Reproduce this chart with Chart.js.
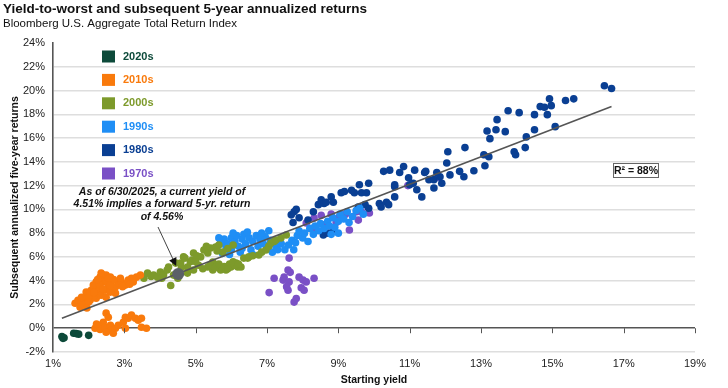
<!DOCTYPE html>
<html>
<head>
<meta charset="utf-8">
<script src="https://cdn.jsdelivr.net/npm/chart.js@4.4.1/dist/chart.umd.min.js"></script>
<style>
  html, body { margin: 0; padding: 0; background: #fff; }
  #wrap { position: relative; width: 728px; height: 388px; }
</style>
</head>
<body>
<div id="wrap"><canvas id="yieldChart" width="728" height="388"></canvas></div>
<script>
// ticks
const xTicks = [1, 3, 5, 7, 9, 11, 13, 15, 17, 19];
const yTicks = [-2, 0, 2, 4, 6, 8, 10, 12, 14, 16, 18, 20, 22, 24];

// decades, legend order
const decades = ['2020s', '2010s', '2000s', '1990s', '1980s', '1970s'];
const decadeColors = ['#0d4a3a', '#f97a0c', '#7d9a2b', '#1f8ef5', '#0a3f93', '#7a50c6'];

// [starting yield %, subsequent 5-yr return %]
const pts2020s = [[1.25, -0.7], [1.28, -0.85], [1.31, -0.8], [1.58, -0.42], [1.65, -0.45], [1.72, -0.5], [2.0, -0.6]];

const pts2010s = [
  [1.62, 2.1], [1.70, 2.36], [1.79, 2.2], [1.90, 2.5], [1.76, 1.77], [1.90, 1.94], [2.04, 2.36], [1.93, 3.04],
  [2.07, 3.2], [2.18, 3.46], [2.21, 3.9], [2.32, 4.3], [2.41, 4.47], [2.49, 4.47], [2.61, 4.3], [2.41, 3.9],
  [2.32, 3.46], [2.27, 3.04], [2.35, 2.78], [2.21, 2.53], [2.13, 2.6], [2.46, 3.2], [2.55, 3.63], [2.63, 3.8],
  [2.75, 3.46], [2.83, 3.8], [2.92, 3.9], [3.03, 3.63], [3.11, 4.05], [3.2, 4.2], [3.34, 4.3], [3.45, 4.47],
  [3.25, 3.9], [2.75, 2.95], [2.61, 3.04], [2.49, 2.6], [2.04, 2.95], [2.13, 3.63], [2.89, 4.2], [2.35, 4.64],
  [1.99, 2.53], [1.84, 2.0], [2.3, 3.7], [2.5, 4.0], [1.8, 2.6], [2.0, 2.2], [2.15, 3.0], [2.4, 3.3],
  [2.6, 3.6], [2.7, 4.1], [2.25, 4.1], [2.55, 4.2], [1.95, 1.7], [2.95, 3.5], [3.15, 3.7],
  [2.49, 1.27], [2.55, 0.93], [2.41, 0.5], [2.27, 0.25], [2.18, 0.0], [2.32, -0.1], [2.46, 0.08], [2.61, 0.25],
  [2.63, -0.17], [2.75, 0.0], [2.49, -0.34], [2.69, -0.42], [2.83, 0.25], [2.97, 0.5], [3.03, 0.93], [3.11, 0.84],
  [3.2, 1.1], [3.31, 0.84], [3.39, 0.68], [3.48, 0.84], [3.03, 0.0], [3.48, 0.08], [3.62, 0.0], [2.22, 0.35]
];

const pts2000s = [
  [3.55, 4.2], [3.65, 4.64], [3.75, 4.35], [3.82, 4.47], [3.93, 4.3], [4.01, 4.73], [4.1, 4.5], [4.2, 4.9],
  [4.24, 5.15], [4.3, 3.6], [4.38, 4.47], [4.44, 5.48], [4.58, 5.48], [4.66, 6.0], [4.77, 5.15], [4.77, 4.64],
  [4.85, 5.6], [4.9, 5.74], [4.94, 6.33], [4.94, 4.9], [5.03, 6.1], [5.08, 5.3], [5.14, 6.0], [5.23, 6.58],
  [5.34, 6.33], [5.34, 5.15], [5.42, 6.75], [5.48, 5.57], [5.48, 4.9], [5.56, 6.84], [5.6, 6.5], [5.65, 7.0],
  [5.7, 4.9], [5.76, 6.4], [5.85, 4.9], [5.9, 6.7], [5.99, 5.15], [6.05, 7.0], [6.13, 5.48], [6.18, 5.15],
  [6.1, 5.3], [6.27, 5.15], [6.35, 5.9], [6.46, 5.9], [6.49, 6.0], [6.6, 6.1], [6.77, 6.16], [6.85, 6.4],
  [6.97, 6.58], [7.05, 6.9], [7.11, 7.17], [7.2, 7.3], [7.25, 7.43], [7.39, 7.6], [7.54, 7.85], [4.5, 4.2],
  [4.05, 4.2], [5.2, 5.0], [5.3, 6.9], [4.7, 5.9], [5.4, 5.3], [5.55, 5.1], [5.65, 5.4], [5.8, 5.2],
  [5.95, 5.4], [6.05, 5.6], [6.2, 5.4], [5.9, 5.0], [5.0, 5.6], [4.6, 5.1]
];

const pts1990s = [
  [5.6, 6.8], [5.7, 7.2], [5.75, 6.3], [5.8, 7.5], [5.85, 6.9], [5.9, 7.1], [6.0, 7.6], [6.0, 6.6],
  [6.1, 7.3], [6.15, 7.8], [6.2, 6.9], [6.25, 6.4], [6.3, 7.5], [6.35, 7.9], [6.4, 7.1], [6.5, 7.6],
  [6.55, 6.6], [6.6, 7.3], [6.7, 7.8], [6.75, 6.9], [6.8, 7.5], [6.9, 7.1], [6.95, 7.7], [7.0, 6.7],
  [7.1, 7.4], [7.15, 6.4], [7.25, 6.9], [7.3, 6.6], [7.4, 7.1], [7.5, 6.6], [7.6, 7.0], [7.7, 7.4],
  [7.75, 6.6], [7.8, 7.2], [7.85, 7.8], [7.9, 8.2], [8.0, 7.6], [8.05, 8.0], [8.15, 7.3], [8.2, 8.4],
  [8.3, 7.9], [8.35, 8.6], [8.45, 8.2], [8.5, 8.8], [8.6, 8.4], [8.7, 9.0], [8.75, 8.6], [8.85, 9.3],
  [8.9, 8.5], [9.0, 9.0], [9.05, 9.6], [9.15, 9.2], [9.25, 9.8], [9.3, 8.9], [9.4, 9.4], [9.5, 9.9],
  [9.6, 10.1], [9.7, 9.6], [9.0, 8.0], [8.8, 7.9], [5.65, 7.6], [6.05, 8.0], [6.45, 8.1], [6.6, 6.2],
  [6.85, 8.0], [5.95, 6.2], [6.3, 6.7], [7.05, 8.2]
];

const pts1980s = [
  [7.68, 9.54], [7.76, 9.8], [7.73, 8.9], [7.82, 10.0], [7.9, 9.3], [8.15, 9.1], [8.3, 9.8], [8.44, 10.4],
  [8.52, 10.8], [8.6, 10.5], [8.66, 10.6], [8.8, 11.05], [8.86, 10.6], [9.08, 11.4], [9.17, 11.5], [9.37, 11.6],
  [9.45, 11.4], [9.59, 12.07], [9.65, 11.4], [9.79, 11.4], [9.85, 12.2], [8.58, 7.85], [8.72, 8.0], [8.86, 8.3],
  [9.56, 10.2], [9.85, 10.1], [9.75, 10.4], [10.15, 10.5], [10.2, 10.2], [10.35, 10.6], [10.41, 10.4], [10.58, 11.05],
  [10.58, 11.9], [10.58, 12.07], [10.27, 13.2], [10.44, 13.3], [10.72, 13.1], [10.83, 13.6], [10.97, 12.66], [11.0, 12.07],
  [11.1, 12.2], [11.14, 13.3], [11.2, 11.65], [11.34, 11.05], [11.42, 13.1], [11.45, 13.2], [11.54, 12.5], [11.68, 12.5],
  [11.68, 11.8], [11.76, 13.1], [11.85, 12.74], [11.9, 12.2], [12.04, 13.9], [12.07, 14.85], [12.13, 12.9], [12.4, 13.2],
  [12.52, 12.74], [12.55, 15.2], [12.8, 13.25], [13.08, 14.6], [13.11, 13.67], [13.17, 16.6], [13.22, 14.43], [13.25, 15.95],
  [13.42, 16.7], [13.45, 17.55], [13.68, 16.54], [13.76, 18.3], [13.93, 14.85], [13.97, 14.6], [14.07, 18.14], [14.24, 15.2],
  [14.27, 16.1], [14.5, 16.7], [14.5, 17.97], [14.66, 18.65], [14.78, 18.6], [14.86, 17.97], [14.92, 19.3], [14.97, 18.73],
  [15.08, 16.96], [15.37, 19.16], [15.6, 19.3], [16.46, 20.4], [16.66, 20.17]
];

const pts1970s = [
  [7.06, 3.0], [7.2, 4.2], [7.45, 4.05], [7.48, 4.3], [7.59, 4.9], [7.62, 5.9], [7.65, 4.7], [7.62, 3.9],
  [7.59, 3.2], [7.76, 2.2], [7.82, 2.5], [7.9, 4.3], [7.96, 3.4], [8.01, 4.05], [8.04, 3.2], [8.1, 3.9],
  [8.32, 4.2], [7.55, 3.5], [8.1, 8.86], [8.32, 9.28], [8.52, 9.5], [8.32, 8.44], [8.94, 8.9], [9.03, 9.37],
  [8.8, 9.6], [9.31, 8.27], [9.51, 9.8], [9.56, 9.1], [9.65, 9.8], [9.87, 9.7], [9.2, 9.6], [8.6, 8.7],
  [10.95, 12.0], [11.8, 12.7]
];

const decadePoints = [pts2020s, pts2010s, pts2000s, pts1990s, pts1980s, pts1970s];

// regression line ends and the current reading
const trendX = [1.25, 16.66];
const trendY = [0.84, 18.65];
const currentYield = 4.51;
const currentReturn = 4.56;
const rSquared = 'R² = 88%';
const noteLines = ['As of 6/30/2025, a current yield of', '4.51% implies a forward 5-yr. return', 'of 4.56%'];

const FONT = '"Liberation Sans", Arial, sans-serif';

const toXY = arr => arr.map(p => ({ x: p[0], y: p[1] }));

// dataset 0 is drawn on top in Chart.js
const datasets = [
  {
    label: 'Current',
    data: [{ x: currentYield, y: currentReturn }],
    backgroundColor: '#5b6068',
    pointRadius: 6,
    borderWidth: 0
  },
  {
    label: 'Trend',
    type: 'line',
    data: trendX.map((x, i) => ({ x: x, y: trendY[i] })),
    borderColor: '#555555',
    borderWidth: 1.6,
    pointRadius: 0,
    fill: false
  }
];
decades.forEach((d, i) => {
  datasets.push({
    label: d,
    data: toXY(decadePoints[i]),
    backgroundColor: decadeColors[i],
    pointRadius: 3.8,
    borderWidth: 0
  });
});

const decor = {
  id: 'decor',
  afterDraw(chart) {
    const ctx = chart.ctx;
    const xs = chart.scales.x, ys = chart.scales.y;
    ctx.save();

    // title + subtitle
    ctx.fillStyle = '#111';
    ctx.textAlign = 'left';
    ctx.textBaseline = 'middle';
    ctx.font = 'bold 13.5px ' + FONT;
    ctx.fillText('Yield-to-worst and subsequent 5-year annualized returns', 3, 9);
    ctx.font = '11.5px ' + FONT;
    ctx.fillText('Bloomberg U.S. Aggregate Total Return Index', 3, 24);

    // tick marks on the zero line
    const y0 = ys.getPixelForValue(0);
    ctx.strokeStyle = '#555';
    ctx.lineWidth = 1;
    xTicks.forEach(v => {
      if (v === xTicks[0]) return;
      const px = Math.round(xs.getPixelForValue(v)) + 0.5;
      ctx.beginPath();
      ctx.moveTo(px, y0);
      ctx.lineTo(px, y0 + 5);
      ctx.stroke();
    });

    // legend
    ctx.font = 'bold 11px ' + FONT;
    decades.forEach((d, i) => {
      const cy = 56.5 + i * 23.4;
      ctx.fillStyle = decadeColors[i];
      ctx.fillRect(102, cy - 6, 13, 12);
      ctx.fillText(d, 123, cy);
    });

    // note + arrow
    ctx.fillStyle = '#111';
    ctx.font = 'italic bold 10.5px ' + FONT;
    ctx.textAlign = 'center';
    noteLines.forEach((t, i) => ctx.fillText(t, 162, 192 + i * 12.5));

    const tx = xs.getPixelForValue(currentYield), ty = ys.getPixelForValue(currentReturn);
    const sx = 158, sy = 227;
    const ex = tx - 2, ey = ty - 8;
    const ang = Math.atan2(ey - sy, ex - sx);
    ctx.strokeStyle = '#444';
    ctx.lineWidth = 1;
    ctx.beginPath();
    ctx.moveTo(sx, sy);
    ctx.lineTo(ex - 6 * Math.cos(ang), ey - 6 * Math.sin(ang));
    ctx.stroke();
    ctx.fillStyle = '#111';
    ctx.beginPath();
    ctx.moveTo(ex, ey);
    ctx.lineTo(ex - 8 * Math.cos(ang) + 4 * Math.sin(ang), ey - 8 * Math.sin(ang) - 4 * Math.cos(ang));
    ctx.lineTo(ex - 8 * Math.cos(ang) - 4 * Math.sin(ang), ey - 8 * Math.sin(ang) + 4 * Math.cos(ang));
    ctx.closePath();
    ctx.fill();

    // R² box
    ctx.fillStyle = '#fff';
    ctx.fillRect(613, 163, 45, 14);
    ctx.strokeStyle = '#666';
    ctx.lineWidth = 1;
    ctx.strokeRect(613.5, 163.5, 45, 14);
    ctx.fillStyle = '#111';
    ctx.font = 'bold 10.5px ' + FONT;
    ctx.fillText(rSquared, 636, 171);

    ctx.restore();
  }
};

new Chart(document.getElementById('yieldChart'), {
  type: 'scatter',
  data: { datasets: datasets },
  options: {
    responsive: false,
    animation: false,
    layout: { padding: { top: 43, right: 33, left: 9, bottom: 0 } },
    plugins: { legend: { display: false }, tooltip: { enabled: false } },
    scales: {
      x: {
        type: 'linear',
        min: 1, max: 19,
        afterBuildTicks: s => { s.ticks = xTicks.map(v => ({ value: v })); },
        afterFit: s => { s.height = 36; },
        grid: { display: false, drawTicks: false },
        border: { display: false },
        ticks: { padding: 5, color: '#222', font: { family: FONT, size: 11 }, callback: v => v + '%' },
        title: { display: true, text: 'Starting yield', color: '#111', font: { family: FONT, size: 10.5, weight: 'bold' }, padding: { top: 0, bottom: 2 } }
      },
      y: {
        type: 'linear',
        min: -2, max: 24,
        afterBuildTicks: s => { s.ticks = yTicks.map(v => ({ value: v })); },
        afterFit: s => { s.width = 44; },
        grid: {
          drawTicks: false,
          color: c => c.tick.value === 0 ? '#555555' : (c.tick.value === 24 ? 'rgba(0,0,0,0)' : '#dedede'),
          lineWidth: c => c.tick.value === 0 ? 1.6 : 1.4
        },
        border: { display: true, color: '#555555', width: 1.6 },
        ticks: { padding: 8, color: '#222', font: { family: FONT, size: 11 }, callback: v => v + '%' },
        title: { display: true, text: 'Subsequent annualized five-year returns', color: '#111', font: { family: FONT, size: 10.5, weight: 'bold' }, padding: { top: 0, bottom: 0 } }
      }
    }
  },
  plugins: [decor]
});
</script>
</body>
</html>
